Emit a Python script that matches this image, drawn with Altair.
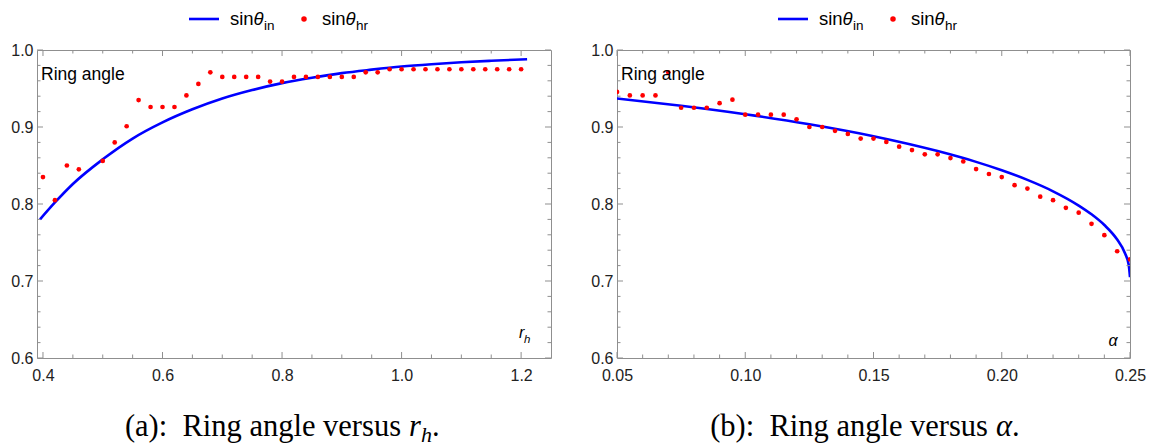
import altair as alt
import pandas as pd

# ---------------- data ----------------
# panel (a): ring angle versus r_h
rh_pts = [0.40, 0.42, 0.44, 0.46, 0.50, 0.52, 0.54, 0.56, 0.58, 0.60, 0.62, 0.64,
          0.66, 0.68, 0.70, 0.72, 0.74, 0.76, 0.78, 0.80, 0.82, 0.84, 0.86, 0.88,
          0.90, 0.92, 0.94, 0.96, 0.98, 1.00, 1.02, 1.04, 1.06, 1.08, 1.10, 1.12,
          1.14, 1.16, 1.18, 1.20]
sin_hr_a = [0.835, 0.805, 0.850, 0.845, 0.856, 0.880, 0.901, 0.935, 0.926, 0.926, 0.926, 0.941,
            0.956, 0.971, 0.965, 0.965, 0.965, 0.965, 0.959, 0.959, 0.965, 0.965, 0.965, 0.965,
            0.965, 0.965, 0.971, 0.971, 0.975, 0.975, 0.975, 0.975, 0.975, 0.975, 0.975, 0.975,
            0.975, 0.975, 0.975, 0.975]
rh_line = [0.395, 0.42, 0.45, 0.50, 0.55, 0.60, 0.65, 0.70, 0.75, 0.80, 0.85, 0.90,
           0.95, 1.00, 1.05, 1.10, 1.15, 1.21]
sin_in_a = [0.780, 0.802, 0.826, 0.858, 0.885, 0.906, 0.923, 0.937, 0.948, 0.957, 0.964, 0.970,
            0.9745, 0.9785, 0.9815, 0.984, 0.986, 0.988]

# panel (b): ring angle versus alpha
alpha_pts = [0.050, 0.055, 0.060, 0.065, 0.070, 0.075, 0.080, 0.085, 0.090, 0.095, 0.100,
             0.105, 0.110, 0.115, 0.120, 0.125, 0.130, 0.135, 0.140, 0.145, 0.150, 0.155,
             0.160, 0.165, 0.170, 0.175, 0.180, 0.185, 0.190, 0.195, 0.200, 0.205, 0.210,
             0.215, 0.220, 0.225, 0.230, 0.235, 0.240, 0.245, 0.250]
sin_hr_b = [0.9455, 0.941, 0.941, 0.941, 0.971, 0.925, 0.925, 0.925, 0.931, 0.9355, 0.916,
            0.916, 0.916, 0.916, 0.910, 0.900, 0.900, 0.895, 0.891, 0.885, 0.885, 0.8806,
            0.8745, 0.870, 0.8645, 0.8645, 0.8597, 0.8553, 0.8453, 0.839, 0.835, 0.8244, 0.820,
            0.8095, 0.805, 0.795, 0.7887, 0.7743, 0.7595, 0.7386, 0.728]
alpha_line = [0.05, 0.075, 0.10, 0.125, 0.15, 0.175, 0.19, 0.20, 0.21, 0.22, 0.23, 0.235,
              0.24, 0.245, 0.248, 0.2495, 0.25]
sin_in_b = [0.937, 0.9275, 0.9165, 0.9035, 0.888, 0.8687, 0.8547, 0.8438, 0.8313, 0.8165,
            0.798, 0.7866, 0.7727, 0.7538, 0.7364, 0.721, 0.705]

# tick positions
y_major = [0.6, 0.7, 0.8, 0.9, 1.0]
y_minor = [0.62, 0.64, 0.66, 0.68, 0.72, 0.74, 0.76, 0.78, 0.82, 0.84, 0.86, 0.88,
           0.92, 0.94, 0.96, 0.98]
xa_major = [0.4, 0.6, 0.8, 1.0, 1.2]
xa_minor = [0.45, 0.5, 0.55, 0.65, 0.7, 0.75, 0.85, 0.9, 0.95, 1.05, 1.1, 1.15]
xb_major = [0.05, 0.10, 0.15, 0.20, 0.25]
xb_minor = [0.06, 0.07, 0.08, 0.09, 0.11, 0.12, 0.13, 0.14, 0.16, 0.17, 0.18, 0.19,
            0.21, 0.22, 0.23, 0.24]

# ---------------- styling ----------------
SANS = "Liberation Sans"
SERIF = "Liberation Serif"
FRAME = "#8f8f8f"
BLUE = "#0000ff"
RED = "#ff0000"
H = 308
one = pd.DataFrame({"k": [0]})


def txt(s, x, y, size, font=SANS, style="normal", align="left", color="#000000"):
    return alt.Chart(one).mark_text(
        text=s, font=font, fontSize=size, fontStyle=style, align=align,
        baseline="alphabetic", color=color
    ).encode(x=alt.value(x), y=alt.value(y))


def panel(W, xdom, xmaj, xmin, xfmt, lx, ly, px, py, legend_dx, caption, var_layers,
          extra=None):
    xs = alt.Scale(domain=xdom, nice=False, zero=False)
    ys = alt.Scale(domain=[0.6, 1.0], nice=False, zero=False)
    xax = alt.Axis(values=xmaj, format=xfmt, ticks=False, tickSize=0, domain=False, grid=False,
                   labelPadding=9, labelFontSize=16, labelFont=SANS, labelColor="#222222",
                   title=None, labelFlush=False)
    yax = alt.Axis(values=y_major, format=".1f", ticks=False, tickSize=0, domain=False, grid=False,
                   labelPadding=4, labelFontSize=16, labelFont=SANS, labelColor="#222222",
                   title=None)
    X = lambda: alt.X("x:Q", scale=xs, axis=xax)
    Y = lambda: alt.Y("y:Q", scale=ys, axis=yax)

    line = alt.Chart(pd.DataFrame({"x": lx, "y": ly})).mark_line(
        color=BLUE, strokeWidth=2.6, interpolate="monotone", clip=True
    ).encode(x=X(), y=Y())
    pts = alt.Chart(pd.DataFrame({"x": px, "y": py})).mark_circle(
        color=RED, size=22, opacity=1, clip=True
    ).encode(x=X(), y=Y())

    layers = [line, pts]
    # inward frame ticks on all four sides
    for vals, ln in ((xmaj, 6), (xmin, 3.5)):
        d = pd.DataFrame({"x": vals})
        layers.append(alt.Chart(d).mark_rule(color=FRAME, strokeWidth=1).encode(
            x=X(), y=alt.value(H), y2=alt.value(H - ln)))
        layers.append(alt.Chart(d).mark_rule(color=FRAME, strokeWidth=1).encode(
            x=X(), y=alt.value(0), y2=alt.value(ln)))
    for vals, ln in ((y_major, 6), (y_minor, 3.5)):
        d = pd.DataFrame({"y": vals})
        layers.append(alt.Chart(d).mark_rule(color=FRAME, strokeWidth=1).encode(
            y=Y(), x=alt.value(0), x2=alt.value(ln)))
        layers.append(alt.Chart(d).mark_rule(color=FRAME, strokeWidth=1).encode(
            y=Y(), x=alt.value(W), x2=alt.value(W - ln)))

    # legend (drawn above the frame)
    ldx = legend_dx
    ly0 = -31
    layers.append(alt.Chart(one).mark_rule(color=BLUE, strokeWidth=2.6).encode(
        x=alt.value(152 + ldx), x2=alt.value(182 + ldx), y=alt.value(ly0)))
    layers.append(alt.Chart(one).mark_circle(color=RED, size=30, opacity=1).encode(
        x=alt.value(267 + ldx), y=alt.value(ly0)))
    layers += [
        txt("sin", 193 + ldx, ly0 + 6, 18.5),
        txt("θ", 216.5 + ldx, ly0 + 6, 18.5, style="italic"),
        txt("in", 227 + ldx, ly0 + 11, 13.5),
        txt("sin", 285 + ldx, ly0 + 6, 18.5),
        txt("θ", 308.5 + ldx, ly0 + 6, 18.5, style="italic"),
        txt("hr", 319 + ldx, ly0 + 11, 13.5),
    ]
    # inner label
    layers.append(txt("Ring angle", 4, 30, 17.5))
    layers += var_layers
    layers += caption
    if extra is not None:
        layers += extra
    return alt.layer(*layers).properties(width=W, height=H)


cap_a = [
    txt("(a):\u2002Ring angle versus", 364, 386, 30.5, font=SERIF, align="right"),
    txt("r", 372, 386, 30.5, font=SERIF, style="italic"),
    txt("h", 384, 392, 22, font=SERIF, style="italic"),
    txt(".", 395, 386, 30.5, font=SERIF),
]
var_a = [
    txt("r", 482, 288, 16, style="italic"),
    txt("h", 487, 293, 11.5, style="italic"),
]
cap_b = [
    txt("(b):\u2002Ring angle versus", 371, 386, 30.5, font=SERIF, align="right"),
    txt("α", 379, 386, 30.5, font=SERIF, style="italic"),
    txt(".", 395, 386, 30.5, font=SERIF),
]
var_b = [txt("α", 496, 296, 16, style="italic", align="center")]

# invisible anchors fixing the page bounds (top-left / bottom-right corners)
anchor_tl = [alt.Chart(one).mark_rule(opacity=0, strokeWidth=1).encode(
    x=alt.value(-36.5), x2=alt.value(-35.5), y=alt.value(-49.5))]
anchor_br = [alt.Chart(one).mark_rule(opacity=0, strokeWidth=1).encode(
    x=alt.value(530.5), x2=alt.value(531.5), y=alt.value(395.5))]

left = panel(514, [0.39, 1.25], xa_major, xa_minor, ".1f", rh_line, sin_in_a, rh_pts, sin_hr_a,
             0, cap_a, var_a, anchor_tl)
right = panel(513, [0.05, 0.25], xb_major, xb_minor, ".2f", alpha_line, sin_in_b, alpha_pts,
              sin_hr_b, 9, cap_b, var_b, anchor_br)

chart = alt.hconcat(left, right, spacing=66, bounds="flush").properties(
    padding=0, background="white"
).configure_view(stroke=FRAME, strokeWidth=1)

chart.save("out.html", embed_options={"renderer": "svg", "actions": False})
